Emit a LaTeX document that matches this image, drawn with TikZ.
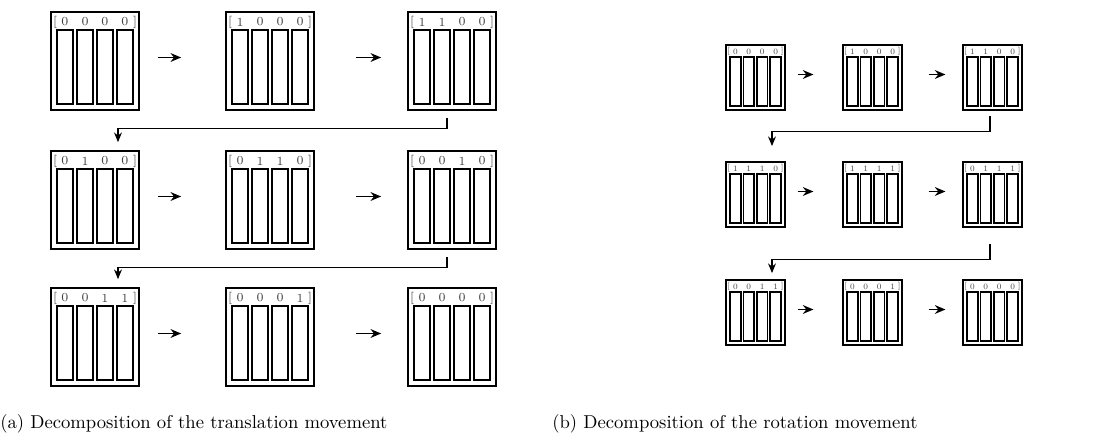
\documentclass[tikz,border=0pt]{standalone}
\usepackage{fontspec}
\usetikzlibrary{arrows.meta, calc}
\tikzset{
  membox/.style={draw, line width=1pt, minimum width=1.76cm, minimum height=1.96cm, inner sep=0pt},
  bar/.style={line width=1pt},
  bit/.style={font=\fontsize{7}{8}\selectfont, text=black!75, inner sep=0pt},
  hop/.style={-{Stealth[length=6pt,width=5pt]}, line width=0.9pt},
  link/.style={-{Stealth[length=5.5pt,width=4.5pt]}, line width=0.6pt},
  caption/.style={anchor=west, inner sep=0pt, font=\fontsize{10.6}{12}\selectfont},
}
% one register box: name, centre, scale, bits
\newcommand{\regbox}[4]{%
  \begin{scope}[shift={(#2)}, scale=#3, transform shape]
    \node[membox] (#1) at (0,0) {};
    \foreach \b [count=\k from 0] in {#4}{
      \draw[bar] (-0.76+0.4*\k,0.62) rectangle ++(0.32,-1.48);
      \node[bit] at (-0.6+0.4*\k,0.78) {\b};
    }
    \node[bit] at (-0.8,0.78) {[};
    \node[bit] at (0.8,0.78) {]};
  \end{scope}}
\begin{document}
\begin{tikzpicture}
\useasboundingbox (0,0) rectangle (22.36,-8.84);
% ---- Panel (a): translation ----
\regbox{t1}{1.9,-1.22}{1}{0,0,0,0}
\regbox{t2}{5.4,-1.22}{1}{1,0,0,0}
\regbox{t3}{9.04,-1.22}{1}{1,1,0,0}
\regbox{t4}{1.9,-4}{1}{0,1,0,0}
\regbox{t5}{5.4,-4}{1}{0,1,1,0}
\regbox{t6}{9.04,-4}{1}{0,0,1,0}
\regbox{t7}{1.9,-6.74}{1}{0,0,1,1}
\regbox{t8}{5.4,-6.74}{1}{0,0,0,1}
\regbox{t9}{9.04,-6.74}{1}{0,0,0,0}
\foreach \a/\b/\c in {1/2/3,4/5/6,7/8/9}{
  \draw[hop, shorten <=0.36cm, shorten >=0.88cm] ([yshift=0.07cm]t\a.east) -- ([yshift=0.07cm]t\b.west);
  \draw[hop, shorten <=0.82cm, shorten >=0.52cm] ([yshift=0.07cm]t\b.east) -- ([yshift=0.07cm]t\c.west);
}
\draw[link] ([xshift=-0.1cm,yshift=-0.14cm]t3.south) -- ++(0,-0.22) -| ([xshift=0.46cm,yshift=0.16cm]t4.north);
\draw[link] ([xshift=-0.1cm,yshift=-0.14cm]t6.south) -- ++(0,-0.22) -| ([xshift=0.46cm,yshift=0.16cm]t7.north);
\node[caption] (capa) at (0,-8.48) {(a) Decomposition of the translation movement};
% ---- Panel (b): rotation ----
\regbox{r1}{15.11,-1.55}{0.67}{0,0,0,0}
\regbox{r2}{17.45,-1.55}{0.67}{1,0,0,0}
\regbox{r3}{19.85,-1.55}{0.67}{1,1,0,0}
\regbox{r4}{15.11,-3.89}{0.67}{1,1,1,0}
\regbox{r5}{17.45,-3.89}{0.67}{1,1,1,1}
\regbox{r6}{19.85,-3.89}{0.67}{0,1,1,1}
\regbox{r7}{15.11,-6.25}{0.67}{0,0,1,1}
\regbox{r8}{17.45,-6.25}{0.67}{0,0,0,1}
\regbox{r9}{19.85,-6.25}{0.67}{0,0,0,0}
\foreach \a/\b/\c in {1/2/3,4/5/6,7/8/9}{
  \draw[hop, shorten <=0.24cm, shorten >=0.58cm] ([yshift=0.06cm]r\a.east) -- ([yshift=0.06cm]r\b.west);
  \draw[hop, shorten <=0.52cm, shorten >=0.34cm] ([yshift=0.06cm]r\b.east) -- ([yshift=0.06cm]r\c.west);
}
\draw[link] ([xshift=-0.05cm,yshift=-0.1cm]r3.south) -- ++(0,-0.32) -| ([xshift=0.33cm,yshift=0.3cm]r4.north);
\draw[link] ([xshift=-0.05cm,yshift=-0.32cm]r6.south) -- ++(0,-0.32) -| ([xshift=0.33cm,yshift=0.12cm]r7.north);
\node[caption] (capb) at (11.04,-8.48) {(b) Decomposition of the rotation movement};
\end{tikzpicture}
\end{document}
